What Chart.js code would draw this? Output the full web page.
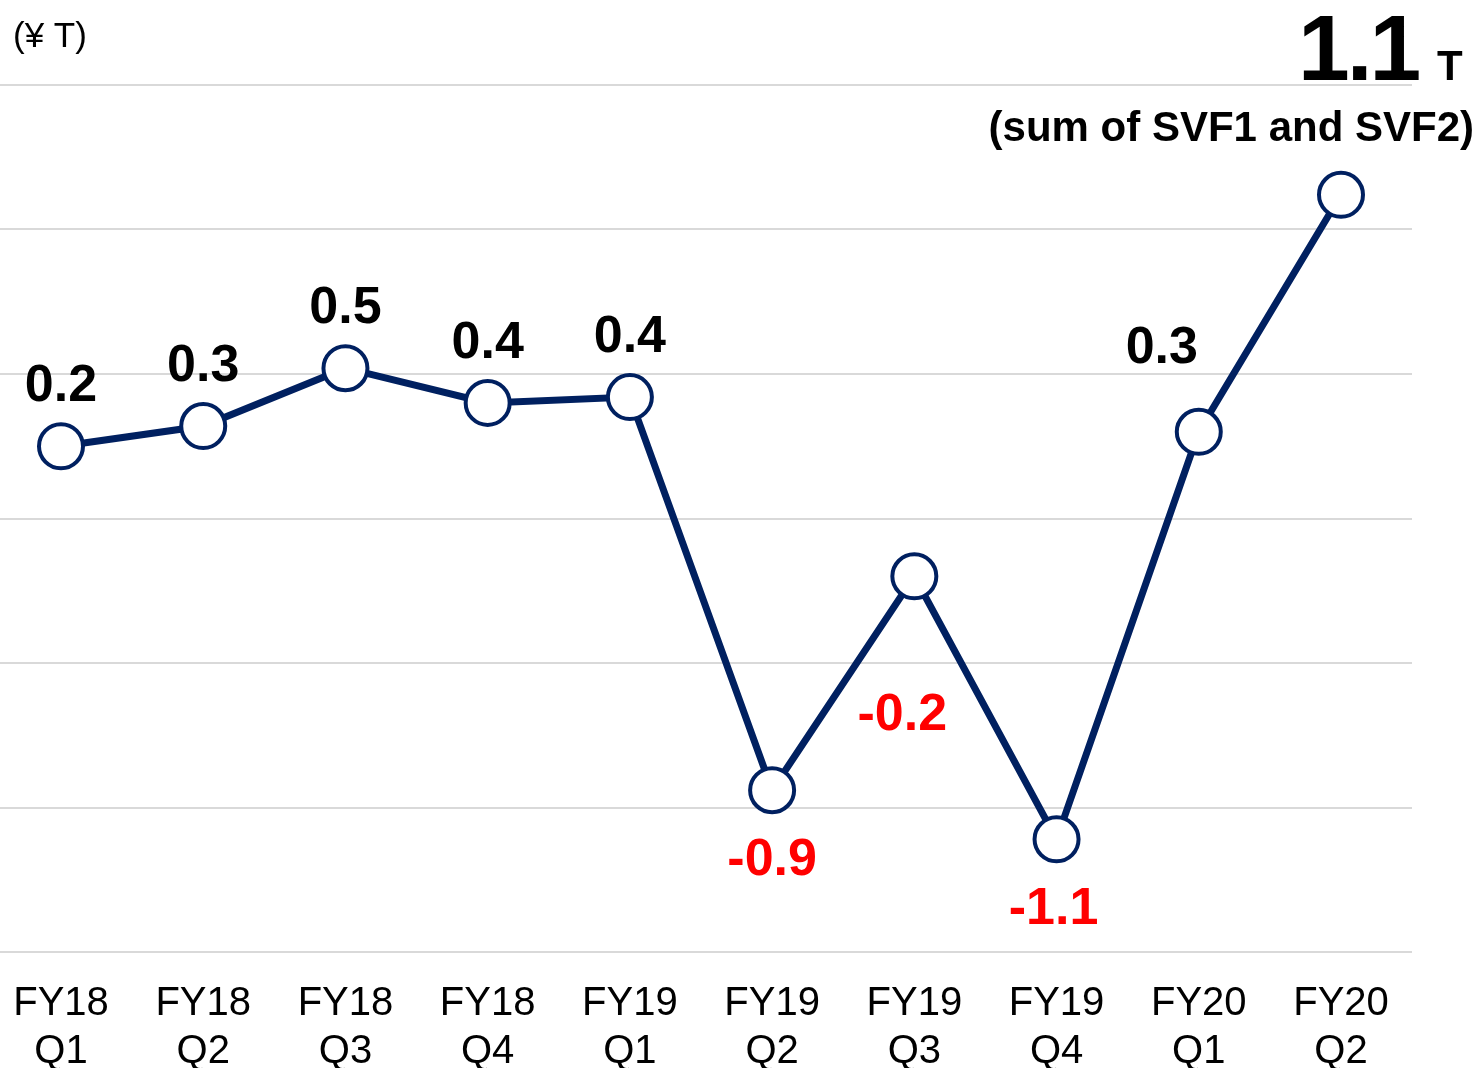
<!DOCTYPE html>
<html>
<head>
<meta charset="utf-8">
<script src="https://cdn.jsdelivr.net/npm/chart.js@4.4.1/dist/chart.umd.min.js"></script>
<style>
    html, body { margin: 0; padding: 0; background: #fff; overflow: hidden; }
    #wrap { position: relative; width: 1480px; height: 1104px; }
</style>
</head>
<body>
<div id="wrap"><canvas id="svfChart"></canvas></div>
<script>
// Quarterly SVF gains (¥ T)
const quarters = [
    ['FY18', 'Q1'], ['FY18', 'Q2'], ['FY18', 'Q3'], ['FY18', 'Q4'],
    ['FY19', 'Q1'], ['FY19', 'Q2'], ['FY19', 'Q3'], ['FY19', 'Q4'],
    ['FY20', 'Q1'], ['FY20', 'Q2']
];
const gains = [0.25, 0.32, 0.52, 0.40, 0.42, -0.94, -0.20, -1.11, 0.30, 1.12];
const gainLabels = ['0.2', '0.3', '0.5', '0.4', '0.4', '-0.9', '-0.2', '-1.1', '0.3', ''];
const yTicks = [-1.5, -1.0, -0.5, 0, 0.5, 1.0, 1.5];

const FONT = '"Liberation Sans", Arial, sans-serif';
const colors = {
    line: '#002060',
    grid: '#d9d9d9',
    positive: '#000000',
    negative: '#ff0000',
    text: '#000000'
};
// label placement relative to each point (dx, dy of baseline)
const labelOffsets = [
    [0, -45], [0, -45], [0, -45], [0, -45], [0, -45],
    [0, 85], [-12, 154], [-3, 85], [-37, -69], [0, 0]
];

// full-width horizontal gridlines placed via the y scale
const gridPlugin = {
    id: 'fullGrid',
    beforeDatasetsDraw(chart) {
        const { ctx, scales: { y } } = chart;
        ctx.save();
        ctx.strokeStyle = colors.grid;
        ctx.lineWidth = 2;
        yTicks.forEach(v => {
            const py = Math.round(y.getPixelForValue(v));
            ctx.beginPath();
            ctx.moveTo(0, py);
            ctx.lineTo(1412, py);
            ctx.stroke();
        });
        ctx.restore();
    }
};

const labelPlugin = {
    id: 'valueLabels',
    afterDatasetsDraw(chart) {
        const { ctx } = chart;
        const meta = chart.getDatasetMeta(0);
        ctx.save();
        ctx.font = `bold 52px ${FONT}`;
        ctx.textAlign = 'center';
        ctx.textBaseline = 'alphabetic';
        meta.data.forEach((pt, i) => {
            if (!gainLabels[i]) return;
            ctx.fillStyle = gains[i] < 0 ? colors.negative : colors.positive;
            ctx.fillText(gainLabels[i], pt.x + labelOffsets[i][0], pt.y + labelOffsets[i][1]);
        });
        ctx.restore();
    }
};

const headerPlugin = {
    id: 'header',
    afterDraw(chart) {
        const { ctx } = chart;
        ctx.save();
        ctx.fillStyle = colors.text;
        ctx.textBaseline = 'alphabetic';
        ctx.textAlign = 'left';
        ctx.font = `35px ${FONT}`;
        ctx.fillText('(¥ T)', 13, 47);

        ctx.font = `bold 93px ${FONT}`;
        ctx.letterSpacing = '-3px';
        ctx.fillText('1.1', 1298, 80);
        ctx.letterSpacing = '0px';
        ctx.font = `bold 42px ${FONT}`;
        ctx.fillText('T', 1437, 80);

        ctx.textAlign = 'right';
        ctx.font = `bold 42px ${FONT}`;
        ctx.fillText('(sum of SVF1 and SVF2)', 1474, 141);
        ctx.restore();
    }
};

document.addEventListener('DOMContentLoaded', () => {
    const ctx = document.getElementById('svfChart');
    new Chart(ctx, {
        type: 'line',
        data: {
            labels: quarters,
            datasets: [{
                data: gains,
                borderColor: colors.line,
                borderWidth: 7,
                pointRadius: 22,
                pointHoverRadius: 22,
                pointBorderWidth: 4,
                pointBackgroundColor: '#ffffff',
                pointBorderColor: colors.line,
                tension: 0,
                clip: false
            }]
        },
        options: {
            responsive: true,
            maintainAspectRatio: false,
            animation: false,
            layout: {
                padding: { top: 85, left: 61, right: 139, bottom: 0 }
            },
            plugins: {
                legend: { display: false },
                tooltip: { enabled: false }
            },
            scales: {
                x: {
                    offset: false,
                    grid: { display: false, drawTicks: false },
                    border: { display: false },
                    afterFit(scale) {
                        // labels may overhang the plot edges
                        scale.paddingLeft = 0;
                        scale.paddingRight = 0;
                    },
                    ticks: {
                        padding: 28,
                        color: colors.text,
                        maxRotation: 0,
                        autoSkip: false,
                        font: { family: FONT, size: 40, lineHeight: 1.2 }
                    }
                },
                y: {
                    display: false,
                    min: -1.5,
                    max: 1.5,
                    ticks: { stepSize: 0.5 }
                }
            }
        },
        plugins: [gridPlugin, labelPlugin, headerPlugin]
    });
});
</script>
</body>
</html>
